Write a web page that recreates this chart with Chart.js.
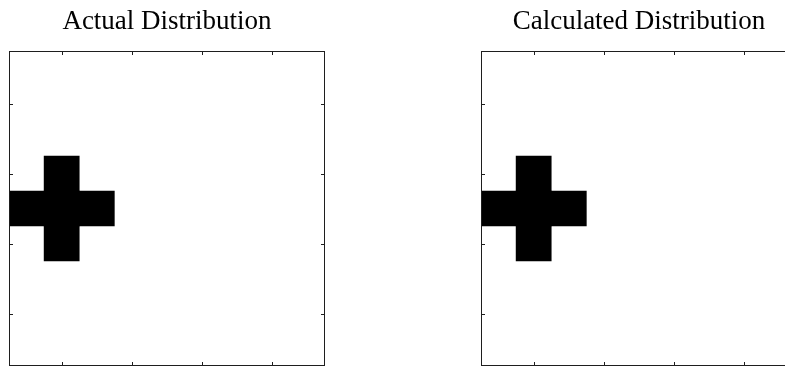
<!DOCTYPE html>
<html>
<head>
<meta charset="utf-8">
<script src="https://cdn.jsdelivr.net/npm/chart.js@4/dist/chart.umd.min.js"></script>
<style>
  html, body { margin: 0; padding: 0; background: #fff; overflow: hidden; }
  #wrap { position: relative; width: 785px; height: 367px; overflow: hidden; }
  canvas { position: absolute; top: 0; }
  #actual { left: 0px; }
  #calc { left: 472px; }
</style>
</head>
<body>
<div id="wrap">
  <canvas id="actual" width="335" height="367"></canvas>
  <canvas id="calc" width="335" height="367"></canvas>
</div>
<script>
// 9x9 cell grids, row 1 at the top
var actualGrid = [
    [0,0,0,0,0,0,0,0,0],
    [0,0,0,0,0,0,0,0,0],
    [0,0,0,0,0,0,0,0,0],
    [0,1,0,0,0,0,0,0,0],
    [1,1,1,0,0,0,0,0,0],
    [0,1,0,0,0,0,0,0,0],
    [0,0,0,0,0,0,0,0,0],
    [0,0,0,0,0,0,0,0,0],
    [0,0,0,0,0,0,0,0,0]
];
var calcGrid = [
    [0,0,0,0,0,0,0,0,0],
    [0,0,0,0,0,0,0,0,0],
    [0,0,0,0,0,0,0,0,0],
    [0,1,0,0,0,0,0,0,0],
    [1,1,1,0,0,0,0,0,0],
    [0,1,0,0,0,0,0,0,0],
    [0,0,0,0,0,0,0,0,0],
    [0,0,0,0,0,0,0,0,0],
    [0,0,0,0,0,0,0,0,0]
];
var tickValues = [2, 4, 6, 8];
var titles = ['Actual Distribution', 'Calculated Distribution'];

// one floating bar per filled cell
function gridToCells(grid){
    var cells = [];
    for (var r = 0; r < grid.length; r++){
        for (var c = 0; c < grid[r].length; c++){
            if (grid[r][c] == 1){
                cells.push({x: c + 1, y: [r + 0.5, r + 1.5]});
            }
        }
    }
    return cells;
}

// box round the plot with short ticks pointing inward
var framePlugin = {
    id: 'frame',
    afterDatasetsDraw: function(chart){
        var ctx = chart.ctx;
        var a = chart.chartArea;
        var xs = chart.scales.x, ys = chart.scales.y;
        var len = 4;
        ctx.save();
        ctx.strokeStyle = '#1e1e1e';
        ctx.lineWidth = 1;
        ctx.beginPath();
        for (var i = 0; i < tickValues.length; i++){
            var px = Math.round(xs.getPixelForValue(tickValues[i])) + 0.5;
            ctx.moveTo(px, a.top); ctx.lineTo(px, a.top + len);
            ctx.moveTo(px, a.bottom); ctx.lineTo(px, a.bottom - len);
            var py = Math.round(ys.getPixelForValue(tickValues[i])) + 0.5;
            ctx.moveTo(a.left, py); ctx.lineTo(a.left + len, py);
            ctx.moveTo(a.right, py); ctx.lineTo(a.right - len, py);
        }
        ctx.stroke();
        ctx.strokeRect(Math.round(a.left) + 0.5, Math.round(a.top) + 0.5,
            Math.round(a.right - a.left) - 1, Math.round(a.bottom - a.top) - 1);
        ctx.restore();
    }
};

function renderGrid(id, grid, title){
    var ctx = document.getElementById(id).getContext('2d');
    return new Chart(ctx, {
        type: 'bar',
        data: {
            datasets: [{
                data: gridToCells(grid),
                backgroundColor: '#000',
                borderWidth: 0,
                barPercentage: 1,
                categoryPercentage: 1
            }]
        },
        options: {
            responsive: false,
            animation: false,
            events: [],
            layout: { padding: { left: 9, right: 10, top: 0, bottom: 1 } },
            plugins: {
                legend: { display: false },
                tooltip: { enabled: false },
                title: {
                    display: true,
                    text: title,
                    color: '#000',
                    font: { family: 'Liberation Serif', size: 27, weight: 'normal', lineHeight: 1.2 },
                    padding: { top: 6, bottom: 12.6 }
                }
            },
            scales: {
                x: { type: 'linear', min: 0.5, max: 9.5, offset: false, display: false },
                y: { type: 'linear', min: 0.5, max: 9.5, reverse: true, display: false }
            }
        },
        plugins: [framePlugin]
    });
}

renderGrid('actual', actualGrid, titles[0]);
renderGrid('calc', calcGrid, titles[1]);
</script>
</body>
</html>
